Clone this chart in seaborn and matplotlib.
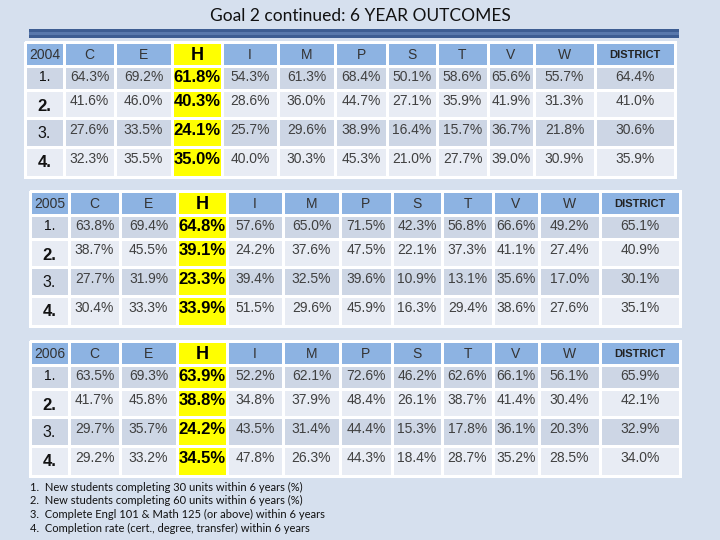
import matplotlib
matplotlib.use("Agg")
import matplotlib.pyplot as plt
from matplotlib.colors import ListedColormap
from matplotlib.patches import Rectangle
import numpy as np
import seaborn as sns

# Table content
years = ["2004", "2005", "2006"]
colleges = ["C", "E", "H", "I", "M", "P", "S", "T", "V", "W", "DISTRICT"]
row_labels = ["1.", "2.", "3.", "4."]

rates_2004 = [
    [64.3, 69.2, 61.8, 54.3, 61.3, 68.4, 50.1, 58.6, 65.6, 55.7, 64.4],
    [41.6, 46.0, 40.3, 28.6, 36.0, 44.7, 27.1, 35.9, 41.9, 31.3, 41.0],
    [27.6, 33.5, 24.1, 25.7, 29.6, 38.9, 16.4, 15.7, 36.7, 21.8, 30.6],
    [32.3, 35.5, 35.0, 40.0, 30.3, 45.3, 21.0, 27.7, 39.0, 30.9, 35.9],
]
rates_2005 = [
    [63.8, 69.4, 64.8, 57.6, 65.0, 71.5, 42.3, 56.8, 66.6, 49.2, 65.1],
    [38.7, 45.5, 39.1, 24.2, 37.6, 47.5, 22.1, 37.3, 41.1, 27.4, 40.9],
    [27.7, 31.9, 23.3, 39.4, 32.5, 39.6, 10.9, 13.1, 35.6, 17.0, 30.1],
    [30.4, 33.3, 33.9, 51.5, 29.6, 45.9, 16.3, 29.4, 38.6, 27.6, 35.1],
]
rates_2006 = [
    [63.5, 69.3, 63.9, 52.2, 62.1, 72.6, 46.2, 62.6, 66.1, 56.1, 65.9],
    [41.7, 45.8, 38.8, 34.8, 37.9, 48.4, 26.1, 38.7, 41.4, 30.4, 42.1],
    [29.7, 35.7, 24.2, 43.5, 31.4, 44.4, 15.3, 17.8, 36.1, 20.3, 32.9],
    [29.2, 33.2, 34.5, 47.8, 26.3, 44.3, 18.4, 28.7, 35.2, 28.5, 34.0],
]

notes = [
    "1.  New students completing 30 units within 6 years (%)",
    "2.  New students completing 60 units within 6 years (%)",
    "3.  Complete Engl 101 & Math 125 (or above) within 6 years",
    "4.  Completion rate (cert., degree, transfer) within 6 years",
]

# layout (pixels)
col_w = [39, 51, 57, 50, 56, 57, 52, 50, 51, 46, 61, 80]
row_h = [24, 24, 28, 29, 30]
table_pos = [(25, 42), (30, 191), (30, 341)]  # left, top

BG = "#D6E0EE"
cell_cmap = ListedColormap(["#8DB3E2", "#FFFF00", "#CDD6E5", "#E8ECF4"])

sns.set_theme(style="white")
plt.rcParams["font.family"] = ["Liberation Sans", "DejaVu Sans"]

W, H = 720, 540
fig = plt.figure(figsize=(7.2, 5.4), dpi=100, facecolor=BG)


def piecewise(sizes):
    edges = np.concatenate([[0], np.cumsum(sizes)]).astype(float)
    idx = np.arange(len(edges), dtype=float)
    return (lambda v: np.interp(v, idx, edges), lambda v: np.interp(v, edges, idx))


def draw_table(left, top, year, rates):
    tw, th = sum(col_w), sum(row_h)
    ax = fig.add_axes([left / W, 1 - (top + th) / H, tw / W, th / H])
    codes = np.full((5, 12), 3)
    codes[[1, 3], :] = 2
    codes[0, :] = 0
    codes[:, 3] = 1
    sns.heatmap(codes, cmap=cell_cmap, vmin=-0.5, vmax=3.5, cbar=False,
                linewidths=1.8, linecolor="white", ax=ax)
    ax.collections[0].set_clip_on(False)
    ax.set_xscale("function", functions=piecewise(col_w))
    ax.set_yscale("function", functions=piecewise(row_h))
    ax.set_xlim(0, 12)
    ax.set_ylim(5, 0)
    ax.set_xticks([])
    ax.set_yticks([])

    # header
    headers = [year] + colleges
    for j, lab in enumerate(headers):
        kw = dict(fontsize=10, color="#333333")
        if lab == "H":
            kw = dict(fontsize=13, fontweight="bold", color="black")
        elif lab == "DISTRICT":
            kw = dict(fontsize=8, fontweight="bold", color="#222222")
        ax.text(j + 0.5, 0.55, lab, ha="center", va="center", **kw)

    # row labels
    lab_style = [dict(fontsize=10, y=0.45), dict(fontsize=12, fontweight="bold", y=0.58),
                 dict(fontsize=11.5, y=0.52), dict(fontsize=12, fontweight="bold", y=0.52)]
    for i, lab in enumerate(row_labels):
        st = dict(lab_style[i])
        yy = st.pop("y")
        ax.text(0.5, i + 1 + yy, lab, ha="center", va="center", color="#111111", **st)

    # values
    for i, row in enumerate(rates):
        yy = 0.47 if i == 0 else 0.40
        for j, v in enumerate(row):
            txt = f"{v:.1f}%"
            if colleges[j] == "H":
                ax.text(j + 1.5, i + 1 + yy + 0.02, txt, ha="center", va="center",
                        fontsize=12, fontweight="bold", color="black")
            else:
                ax.text(j + 1.5, i + 1 + yy, txt, ha="center", va="center",
                        fontsize=10, color="#404040")


for (left, top), year, rates in zip(table_pos, years, [rates_2004, rates_2005, rates_2006]):
    draw_table(left, top, year, rates)

# title and bar
fig.text(0.5, 1 - 16 / H, "Goal 2 continued: 6 YEAR OUTCOMES", ha="center", va="center",
         fontsize=12.5, family=["Lato", "DejaVu Sans"], color="#111111")
fig.add_artist(Rectangle((29 / W, 1 - 38 / H), 650 / W, 9 / H, transform=fig.transFigure,
                         facecolor="#3D5D92", edgecolor="none"))
fig.add_artist(Rectangle((29 / W, 1 - 35 / H), 650 / W, 3 / H, transform=fig.transFigure,
                         facecolor="#5878AC", edgecolor="none"))

# footnotes
for k, line in enumerate(notes):
    fig.text(30 / W, 1 - (487 + k * 13.8) / H, line, ha="left", va="center",
             fontsize=8.0, family=["Lato", "DejaVu Sans"], color="#111111")

fig.savefig("out.png", dpi=100, facecolor=BG)
